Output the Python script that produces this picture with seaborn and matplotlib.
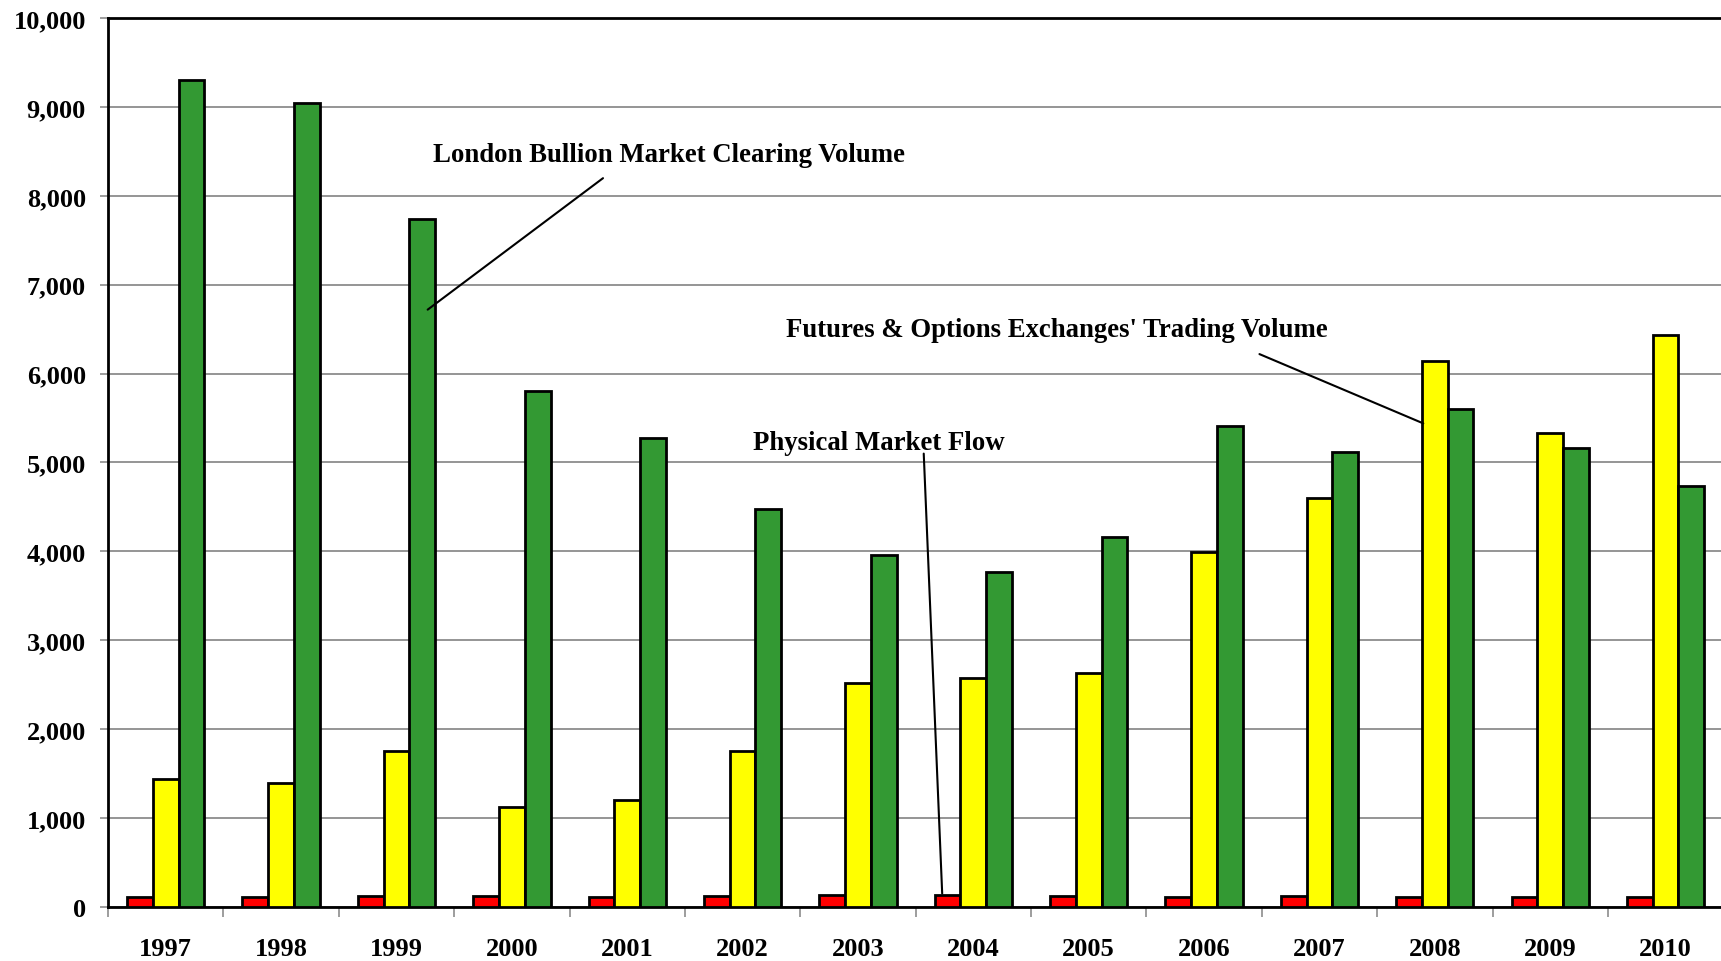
import matplotlib
matplotlib.use("Agg")
import matplotlib.pyplot as plt
from matplotlib.ticker import FuncFormatter, FixedLocator
import seaborn as sns
import pandas as pd

years = ["1997", "1998", "1999", "2000", "2001", "2002", "2003",
         "2004", "2005", "2006", "2007", "2008", "2009", "2010"]
physical_flow = [112, 115, 120, 125, 113, 120, 128, 132, 125, 109, 124, 113, 115, 115]
futures_options = [1440, 1395, 1750, 1120, 1200, 1750, 2520, 2570, 2630, 3990, 4600, 6140, 5330, 6440]
london_clearing = [9310, 9050, 7740, 5800, 5280, 4480, 3960, 3770, 4160, 5410, 5120, 5600, 5160, 4730]

series_names = ["Physical Market Flow",
                "Futures & Options Exchanges' Trading Volume",
                "London Bullion Market Clearing Volume"]
series_colors = ["#FF0000", "#FFFF00", "#339933"]

df = pd.DataFrame({
    "year": years * 3,
    "value": physical_flow + futures_options + london_clearing,
    "series": [series_names[0]] * len(years)
              + [series_names[1]] * len(years)
              + [series_names[2]] * len(years),
})

sns.set_theme(style="white")
plt.rcParams["font.family"] = ["Liberation Serif", "DejaVu Serif"]
plt.rcParams["font.weight"] = "bold"

fig = plt.figure(figsize=(17.21, 9.62), dpi=100)
ax = fig.add_axes([0.0628, 0.0564, 0.9385, 0.9236])

sns.barplot(data=df, x="year", y="value", hue="series", hue_order=series_names,
            palette=series_colors, width=0.67, gap=0, edgecolor="black",
            linewidth=2.0, saturation=1, legend=False, ax=ax, zorder=3)

ax.set_xlim(-0.5, len(years) - 0.5)
ax.set_ylim(0, 10000)
ax.set_xlabel("")
ax.set_ylabel("")

# y axis: thousands with comma separators, grey gridlines
ax.set_yticks(range(0, 10001, 1000))
ax.yaxis.set_major_formatter(FuncFormatter(lambda v, p: f"{int(v):,}"))
ax.grid(axis="y", color="#8c8c8c", linewidth=1.3, zorder=0)
ax.set_axisbelow(True)
ax.tick_params(axis="y", which="major", left=True, length=6, width=1.2,
               color="#8c8c8c", labelsize=19, pad=10)

# x axis: labels centred, tick marks between the year groups
ax.tick_params(axis="x", which="major", bottom=False, length=0, labelsize=19, pad=22)
ax.xaxis.set_minor_locator(FixedLocator([i - 0.5 for i in range(len(years) + 1)]))
ax.tick_params(axis="x", which="minor", bottom=True, length=7, width=1.2,
               color="#8c8c8c", direction="out")
for lab in ax.get_xticklabels() + ax.get_yticklabels():
    lab.set_fontweight("bold")
    lab.set_color("black")

for side in ["left", "top", "bottom", "right"]:
    ax.spines[side].set_visible(True)
    ax.spines[side].set_color("black")
    ax.spines[side].set_linewidth(2.0)

# series callouts
label_style = dict(fontsize=19.3, fontweight="bold", ha="center", va="center", color="black")
line_style = dict(arrowstyle="-", color="black", lw=1.5, shrinkA=0, shrinkB=0)

ax.text(4.36, 8470, series_names[2], **label_style)
ax.annotate("", xy=(2.27, 6720), xytext=(3.79, 8200), arrowprops=line_style)

ax.text(7.72, 6495, series_names[1], **label_style)
ax.annotate("", xy=(10.90, 5440), xytext=(9.48, 6220), arrowprops=line_style)

ax.text(6.18, 5225, series_names[0], **label_style)
ax.annotate("", xy=(6.73, 148), xytext=(6.57, 5100), arrowprops=line_style)

fig.savefig("out.png", dpi=100)
